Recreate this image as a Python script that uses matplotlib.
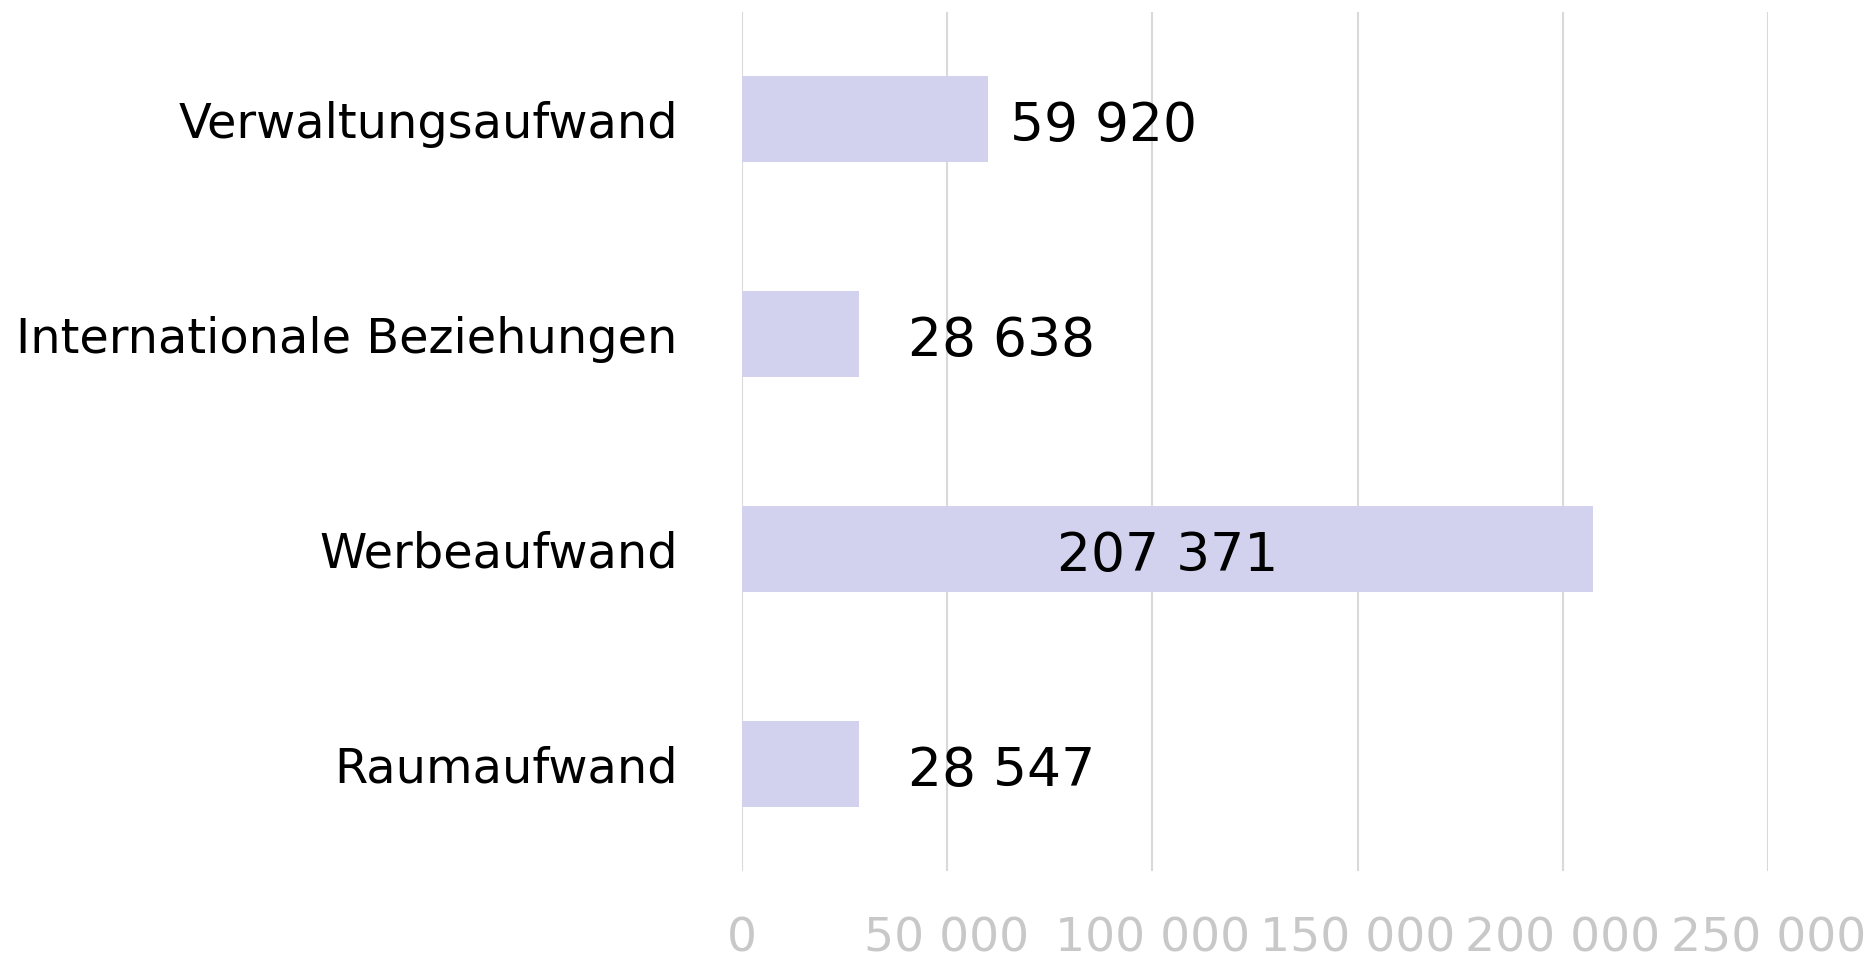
import matplotlib
matplotlib.use("Agg")
import matplotlib.pyplot as plt
from matplotlib.ticker import FuncFormatter

categories = ["Verwaltungsaufwand", "Internationale Beziehungen", "Werbeaufwand", "Raumaufwand"]
values = [59920, 28638, 207371, 28547]
xticks = [0, 50000, 100000, 150000, 200000, 250000]
# label centre positions (data units), as placed in the reference
label_x = [88000, 63200, 103800, 63200]

def fmt(v):
    return f"{int(v):,}".replace(",", " ")

fig = plt.figure(figsize=(18.75, 9.6), dpi=100)
ax = fig.add_axes([741.7 / 1875, 1 - 871 / 960, (1768.3 - 741.7) / 1875, (871 - 12) / 960])

y = list(range(len(categories)))
ax.barh(y, values, height=0.4, color="#d2d2ef", zorder=2)
for yi, lx, v in zip(y, label_x, values):
    ax.text(lx, yi + 0.033, fmt(v), ha="center", va="center", fontsize=38.5, color="black", zorder=3)

ax.set_xlim(0, 250000)
ax.set_ylim(3.5, -0.5)
ax.set_xticks(xticks)
ax.xaxis.set_major_formatter(FuncFormatter(lambda v, p: fmt(v)))
ax.set_yticks(y)
ax.set_yticklabels(categories, fontsize=34.5, va="center_baseline")
ax.tick_params(axis="y", length=0, pad=46)
ax.tick_params(axis="x", length=0, pad=33, labelsize=34, labelcolor="#c8c8c8")
ax.grid(axis="x", color="#d9d9d9", linewidth=1.5, zorder=0)
ax.set_axisbelow(True)
for s in ax.spines.values():
    s.set_visible(False)

fig.savefig("out.png", dpi=100)
